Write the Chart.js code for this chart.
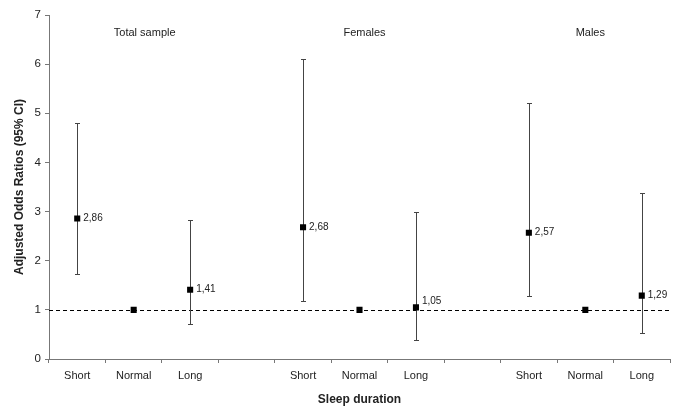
<!DOCTYPE html>
<html>
<head>
<meta charset="utf-8">
<script src="https://cdn.jsdelivr.net/npm/chart.js@4"></script>
<style>
    html, body { margin: 0; padding: 0; background: #fff; }
    #wrap { width: 676px; height: 408px; }
</style>
</head>
<body>
<div id="wrap"><canvas id="orChart" width="676" height="408"></canvas></div>
<script>
// 데이터
const categories = ['Short', 'Normal', 'Long', '', 'Short', 'Normal', 'Long', '', 'Short', 'Normal', 'Long'];
const oddsRatios = [2.86, 1, 1.41, null, 2.68, 1, 1.05, null, 2.57, 1, 1.29];
const ciLower = [1.72, null, 0.71, null, 1.18, null, 0.38, null, 1.29, null, 0.52];
const ciUpper = [4.80, null, 2.83, null, 6.10, null, 2.99, null, 5.20, null, 3.37];
const valueLabels = ['2,86', '', '1,41', '', '2,68', '', '1,05', '', '2,57', '', '1,29'];
const groupNames = ['Total sample', 'Females', 'Males'];
const groupCenters = [1, 5, 9];
const referenceValue = 1;

const FONT = 'Liberation Sans, Arial, sans-serif';

// 오차막대 + 기준선
const errorBarPlugin = {
    id: 'errorBars',
    beforeDatasetsDraw(chart) {
        const ctx = chart.ctx;
        const x = chart.scales.x;
        const y = chart.scales.y;
        const area = chart.chartArea;

        // 기준선 (OR = 1)
        ctx.save();
        ctx.strokeStyle = '#000';
        ctx.lineWidth = 1;
        ctx.setLineDash([4, 3]);
        const yRef = Math.round(y.getPixelForValue(referenceValue)) + 0.5;
        ctx.beginPath();
        ctx.moveTo(area.left, yRef);
        ctx.lineTo(area.right, yRef);
        ctx.stroke();
        ctx.restore();

        // 신뢰구간
        ctx.save();
        ctx.strokeStyle = '#444';
        ctx.lineWidth = 1;
        ciLower.forEach((lo, i) => {
            const hi = ciUpper[i];
            if (lo === null || hi === null) return;
            const px = Math.round(x.getPixelForValue(i)) + 0.5;
            const pLo = Math.round(y.getPixelForValue(lo)) + 0.5;
            const pHi = Math.round(y.getPixelForValue(hi)) + 0.5;
            ctx.beginPath();
            ctx.moveTo(px, pLo);
            ctx.lineTo(px, pHi);
            ctx.moveTo(px - 2.5, pLo);
            ctx.lineTo(px + 2.5, pLo);
            ctx.moveTo(px - 2.5, pHi);
            ctx.lineTo(px + 2.5, pHi);
            ctx.stroke();
        });
        ctx.restore();
    },
    afterDatasetsDraw(chart) {
        const ctx = chart.ctx;
        const x = chart.scales.x;
        const y = chart.scales.y;

        ctx.save();
        ctx.fillStyle = '#222';
        ctx.font = '10px ' + FONT;
        ctx.textAlign = 'left';
        ctx.textBaseline = 'middle';
        valueLabels.forEach((txt, i) => {
            if (!txt) return;
            const px = x.getPixelForValue(i);
            let py = y.getPixelForValue(oddsRatios[i]);
            // 기준선과 겹치는 라벨은 위로
            if (Math.abs(oddsRatios[i] - referenceValue) < 0.1) py -= 6;
            ctx.fillText(txt, px + 6, py);
        });

        // 그룹 제목
        const shift = [11, 5, 5];
        ctx.font = '11px ' + FONT;
        ctx.textAlign = 'center';
        groupNames.forEach((name, g) => {
            ctx.fillText(name, x.getPixelForValue(groupCenters[g]) + shift[g], 33);
        });
        ctx.restore();
    }
};

new Chart(document.getElementById('orChart'), {
    type: 'line',
    data: {
        labels: categories,
        datasets: [{
            label: 'OR',
            data: oddsRatios,
            showLine: false,
            pointStyle: 'rect',
            pointRadius: 4.3,
            pointBorderWidth: 0,
            pointBackgroundColor: '#000',
            borderColor: '#000'
        }]
    },
    options: {
        responsive: false,
        animation: false,
        layout: {
            padding: { top: 15, right: 6, left: 0, bottom: 0 }
        },
        plugins: {
            legend: { display: false },
            tooltip: { enabled: false }
        },
        scales: {
            x: {
                type: 'category',
                offset: true,
                border: { color: '#777', width: 1 },
                grid: {
                    offset: true,
                    drawOnChartArea: false,
                    drawTicks: true,
                    tickLength: 4,
                    color: '#777'
                },
                ticks: {
                    color: '#222',
                    padding: 6,
                    font: { family: FONT, size: 11 },
                    maxRotation: 0,
                    autoSkip: false
                },
                title: {
                    display: true,
                    text: 'Sleep duration',
                    color: '#222',
                    font: { family: FONT, size: 12, weight: 'bold' },
                    padding: { top: 0, bottom: 1 }
                },
                afterFit(scale) { scale.height = 49; }
            },
            y: {
                min: 0,
                max: 7,
                border: { color: '#777', width: 1 },
                grid: {
                    drawOnChartArea: false,
                    drawTicks: true,
                    tickLength: 4,
                    color: '#777'
                },
                ticks: {
                    stepSize: 1,
                    color: '#222',
                    padding: 4,
                    font: { family: FONT, size: 11.5 }
                },
                title: {
                    display: true,
                    text: 'Adjusted Odds Ratios (95% CI)',
                    color: '#222',
                    font: { family: FONT, size: 12, weight: 'bold' },
                    padding: { top: 12, bottom: 0 }
                },
                afterFit(scale) { scale.width = 49; }
            }
        }
    },
    plugins: [errorBarPlugin]
});
</script>
</body>
</html>
